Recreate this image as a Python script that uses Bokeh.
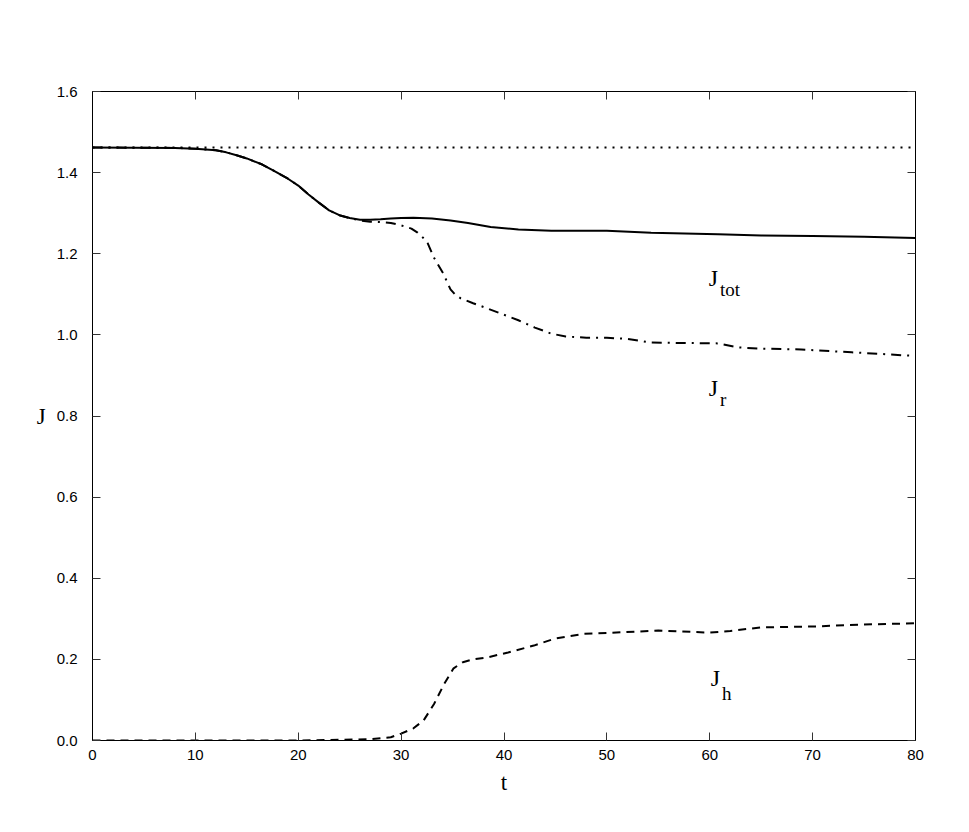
from bokeh.plotting import figure
from bokeh.models import Range1d, LinearAxis, Label, FixedTicker, CustomJSTickFormatter
from bokeh.embed import file_html
from bokeh.resources import INLINE

# data
t_ref = [0, 80]
J_ref = [1.462, 1.462]

t_tot = [0, 8, 10, 11, 12, 13, 14, 15, 16.5, 17.6, 19, 20, 21, 22, 23, 24, 25,
         26, 27, 28, 29, 30, 31.2, 33, 34.8, 36.5, 38.7, 41.4, 44.6, 50, 54.3,
         60.8, 65, 70, 75, 80]
J_tot = [1.462, 1.461, 1.459, 1.457, 1.455, 1.450, 1.443, 1.435, 1.420, 1.405,
         1.385, 1.368, 1.346, 1.326, 1.307, 1.295, 1.288, 1.284, 1.284, 1.285,
         1.287, 1.288, 1.289, 1.287, 1.282, 1.276, 1.266, 1.260, 1.257, 1.257,
         1.252, 1.248, 1.245, 1.244, 1.242, 1.239]

t_r = [0, 8, 10, 11, 12, 13, 14, 15, 16.5, 17.6, 19, 20, 21, 22, 23, 24, 25,
       26, 27, 28, 29, 30, 31, 31.6, 32.2, 32.6, 33.2, 34.1, 34.8, 35.3, 35.8,
       37, 38.1, 41.4, 43, 44.6, 46, 48, 50, 52, 54.3, 60.8, 62.8, 65, 68.9,
       73.8, 80]
J_r = [1.462, 1.461, 1.459, 1.457, 1.455, 1.450, 1.443, 1.435, 1.420, 1.405,
       1.385, 1.368, 1.346, 1.326, 1.307, 1.295, 1.288, 1.282, 1.279, 1.278,
       1.276, 1.270, 1.262, 1.252, 1.238, 1.225, 1.190, 1.151, 1.112, 1.098,
       1.090, 1.078, 1.068, 1.036, 1.018, 1.003, 0.996, 0.993, 0.993, 0.990,
       0.981, 0.979, 0.969, 0.966, 0.964, 0.957, 0.948]

t_h = [0, 10, 20.2, 26.8, 29, 30, 31.2, 32.2, 33.2, 34.2, 35.1, 36, 37, 38.4,
       40.4, 42.9, 44.9, 47.8, 50, 55, 60, 62, 65, 70, 75, 80]
J_h = [0.0, 0.0, 0.0, 0.003, 0.008, 0.017, 0.030, 0.050, 0.090, 0.140, 0.178,
       0.193, 0.200, 0.205, 0.217, 0.234, 0.251, 0.263, 0.265, 0.271, 0.266,
       0.270, 0.279, 0.281, 0.286, 0.289]

x_ticks = [0, 10, 20, 30, 40, 50, 60, 70, 80]
y_ticks = [0.0, 0.2, 0.4, 0.6, 0.8, 1.0, 1.2, 1.4, 1.6]

p = figure(width=948, height=818, output_backend="svg", toolbar_location=None,
           x_range=Range1d(0, 80), y_range=Range1d(0, 1.6),
           min_border_left=92, min_border_right=33, min_border_top=91,
           min_border_bottom=78, x_axis_location=None, y_axis_location=None)
p.grid.visible = False
p.outline_line_color = "black"
p.outline_line_width = 1
p.background_fill_color = "white"
p.border_fill_color = "white"

fmt = CustomJSTickFormatter(code="return tick.toFixed(1);")
fmt_x = CustomJSTickFormatter(code="return tick.toFixed(0);")
fmt_none = CustomJSTickFormatter(code="return '';")

def style(ax, ticks, standoff=8):
    ax.ticker = FixedTicker(ticks=ticks)
    ax.major_tick_in = 8
    ax.major_tick_out = 0
    ax.minor_tick_line_color = None
    ax.axis_line_color = "black"
    ax.major_tick_line_color = "#333333"
    ax.major_label_text_font = "Liberation Sans"
    ax.major_label_text_font_size = "15px"
    ax.major_label_text_color = "black"
    ax.major_label_standoff = standoff
    ax.axis_label_text_font = "Liberation Serif"
    ax.axis_label_text_font_size = "23px"
    ax.axis_label_text_font_style = "normal"
    ax.axis_label_text_color = "black"

bottom = LinearAxis(formatter=fmt_x, axis_label="t")
style(bottom, x_ticks, standoff=9)
bottom.axis_label_standoff = 7
p.add_layout(bottom, "below")

left = LinearAxis(formatter=fmt, axis_label="J")
style(left, y_ticks, standoff=15)
left.axis_label_standoff = 8
if "axis_label_orientation" in left.properties():
    left.axis_label_orientation = "horizontal"
p.add_layout(left, "left")

top = LinearAxis(formatter=fmt_none)
style(top, x_ticks)
p.add_layout(top, "above")
right = LinearAxis(formatter=fmt_none)
style(right, y_ticks)
p.add_layout(right, "right")

p.line(t_ref, J_ref, line_color="black", line_width=2, line_dash="2 6")
p.line(t_tot, J_tot, line_color="black", line_width=2)
p.line(t_r, J_r, line_color="black", line_width=2, line_dash="10 6 2 6")
p.line(t_h, J_h, line_color="black", line_width=2, line_dash="8 6")

serif = "Liberation Serif"
def lab(x, y, text, size, align="left"):
    p.add_layout(Label(x=x, y=y, text=text, text_font=serif,
                       text_font_size=size, text_color="black",
                       text_align=align, text_baseline="alphabetic"))

lab(59.9, 1.141, "J", "24px")
lab(61.0, 1.112, "tot", "19px")
lab(59.9, 0.868, "J", "24px")
lab(61.0, 0.841, "r", "19px")
lab(60.1, 0.153, "J", "24px")
lab(61.2, 0.116, "h", "19px")

open("out.html", "w").write(file_html(p, INLINE))
